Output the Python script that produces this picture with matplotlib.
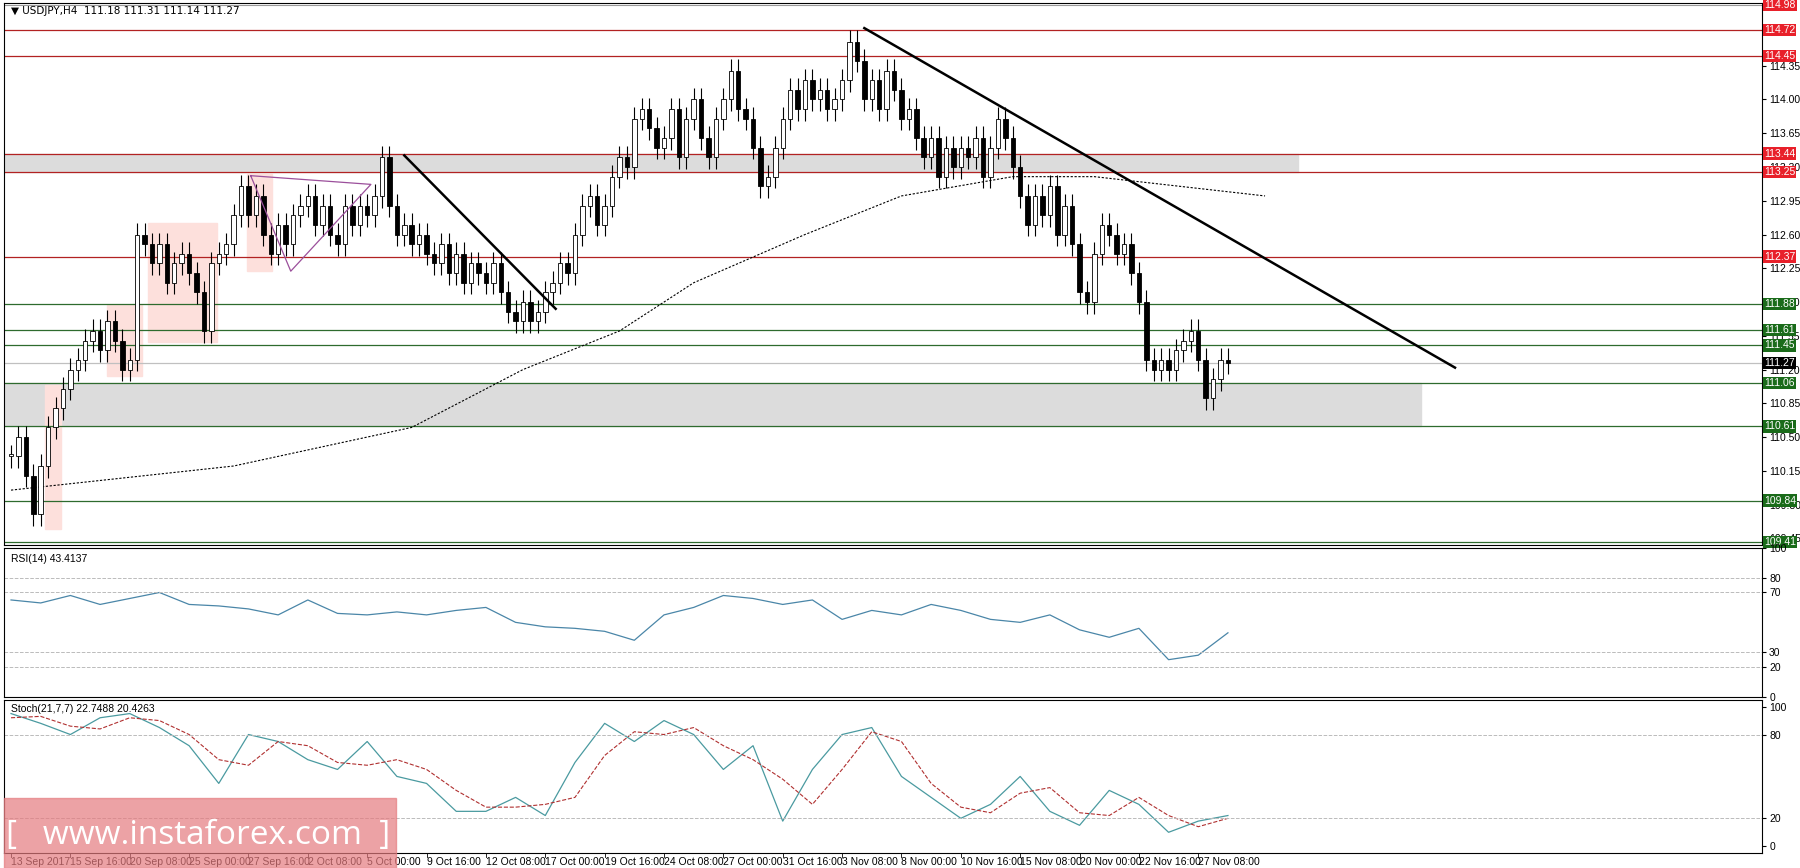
import numpy as np
import matplotlib.pyplot as plt
from matplotlib.patches import Rectangle

plt.rcParams['font.family'] = ['Liberation Sans', 'DejaVu Sans']

# 8-hour closes, 8 bars per date label
closes = [
    110.3, 110.5, 110.1, 109.7, 110.2, 110.6, 110.8, 111.0,
    111.2, 111.3, 111.5, 111.6, 111.4, 111.7, 111.5, 111.2,
    111.3, 112.6, 112.5, 112.3, 112.5, 112.1, 112.3, 112.4,
    112.2, 112.0, 111.6, 112.3, 112.4, 112.5, 112.8, 113.1,
    112.8, 113.0, 112.6, 112.4, 112.7, 112.5, 112.8, 112.9,
    113.0, 112.7, 112.9, 112.6, 112.5, 112.9, 112.7, 112.9,
    112.8, 113.0, 113.4, 112.9, 112.6, 112.7, 112.5, 112.6,
    112.4, 112.3, 112.5, 112.2, 112.4, 112.1, 112.3, 112.2,
    112.1, 112.3, 112.0, 111.8, 111.7, 111.9, 111.7, 111.8,
    112.0, 112.1, 112.3, 112.2, 112.6, 112.9, 113.0, 112.7,
    112.9, 113.2, 113.4, 113.3, 113.8, 113.9, 113.7, 113.5,
    113.6, 113.9, 113.4, 113.8, 114.0, 113.6, 113.4, 113.8,
    114.0, 114.3, 113.9, 113.8, 113.5, 113.1, 113.2, 113.5,
    113.8, 114.1, 113.9, 114.2, 114.0, 114.1, 113.9, 114.0,
    114.2, 114.6, 114.4, 114.0, 114.2, 113.9, 114.3, 114.1,
    113.8, 113.9, 113.6, 113.4, 113.6, 113.2, 113.5, 113.3,
    113.5, 113.4, 113.6, 113.2, 113.5, 113.8, 113.6, 113.3,
    113.0, 112.7, 113.0, 112.8, 113.1, 112.6, 112.9, 112.5,
    112.0, 111.9, 112.4, 112.7, 112.6, 112.4, 112.5, 112.2,
    111.9, 111.3, 111.2, 111.3, 111.2, 111.4, 111.5, 111.6,
    111.3, 110.9, 111.1, 111.3, 111.27,
]
wick = 0.12

ma_x = [0, 30, 54, 69, 82, 92, 107, 120, 135, 146, 169]
ma_y = [109.95, 110.2, 110.6, 111.2, 111.6, 112.1, 112.6, 113.0, 113.2, 113.2, 113.0]

date_labels = ["13 Sep 2017", "15 Sep 16:00", "20 Sep 08:00", "25 Sep 00:00", "27 Sep 16:00",
               "2 Oct 08:00", "5 Oct 00:00", "9 Oct 16:00", "12 Oct 08:00", "17 Oct 00:00",
               "19 Oct 16:00", "24 Oct 08:00", "27 Oct 00:00", "31 Oct 16:00", "3 Nov 08:00",
               "8 Nov 00:00", "10 Nov 16:00", "15 Nov 08:00", "20 Nov 00:00", "22 Nov 16:00",
               "27 Nov 08:00"]

red_levels = [114.72, 114.45, 113.44, 113.25, 112.37]
green_levels = [111.88, 111.61, 111.45, 111.06, 110.61, 109.84, 109.41]
price_ticks = [114.35, 114.00, 113.65, 113.30, 112.95, 112.60, 112.25, 111.90,
               111.55, 111.20, 110.85, 110.50, 110.15, 109.80, 109.45]

# every 4 bars
rsi = [65, 63, 68, 62, 66, 70, 62, 61, 59, 55, 65, 56, 55, 57, 55, 58, 60, 50, 47, 46,
       44, 38, 55, 60, 68, 66, 62, 65, 52, 58, 55, 62, 58, 52, 50, 55, 45, 40, 46, 25,
       28, 43]
stoch_k = [95, 88, 80, 92, 95, 85, 72, 45, 80, 75, 62, 55, 75, 50, 45, 25, 25, 35, 22, 60,
           88, 75, 90, 80, 55, 72, 18, 55, 80, 85, 50, 35, 20, 30, 50, 25, 15, 40, 30, 10,
           18, 22]
stoch_d = [92, 93, 86, 84, 92, 90, 80, 62, 58, 75, 72, 60, 58, 62, 55, 40, 28, 28, 30, 35,
           65, 82, 80, 85, 72, 62, 48, 30, 55, 82, 75, 45, 28, 24, 38, 42, 24, 22, 35, 22,
           14, 20]

fig = plt.figure(figsize=(18, 8.68), dpi=100)
ax = fig.add_axes([0.002, 0.372, 0.977, 0.6245])
ax2 = fig.add_axes([0.002, 0.197, 0.977, 0.172])
ax3 = fig.add_axes([0.002, 0.017, 0.977, 0.177])
xmax = 236
for a in (ax, ax2, ax3):
    a.set_xlim(-1, xmax)
    a.yaxis.tick_right()
    a.tick_params(axis='y', labelsize=7.5, length=3, pad=2)
    a.set_xticks([])

# zones and boxes
ax.add_patch(Rectangle((-1, 113.25), 174.5, 0.19, color='#dcdcdc', zorder=0))
ax.add_patch(Rectangle((-1, 110.61), 191, 0.45, color='#dcdcdc', zorder=0))
for x0, x1, y0, y1 in [(13, 17.7, 111.13, 111.87), (18.5, 27.7, 111.49, 112.72),
                       (4.6, 6.8, 109.55, 111.04), (31.8, 35.2, 112.22, 113.23)]:
    ax.add_patch(Rectangle((x0, y0), x1 - x0, y1 - y0, color='#fde0dc', zorder=0))

for lv in red_levels:
    ax.axhline(lv, color='#b22222', lw=0.9, zorder=1)
for lv in green_levels:
    ax.axhline(lv, color='#2e6b2e', lw=0.9, zorder=1)
ax.axhline(114.98, color='#999999', lw=0.8)
ax.axhline(111.27, color='#c0c0c0', lw=0.9)

opens = [closes[0]] + closes[:-1]
for i, (o, c) in enumerate(zip(opens, closes)):
    ax.vlines(i, min(o, c) - wick, max(o, c) + wick, color='black', lw=0.8, zorder=3)
    face = 'white' if c >= o else 'black'
    ax.add_patch(Rectangle((i - 0.3, min(o, c)), 0.6, max(abs(c - o), 0.02),
                           facecolor=face, edgecolor='black', lw=0.6, zorder=4))

ax.plot(ma_x, ma_y, color='black', ls=(0, (2, 1.5)), lw=0.8, zorder=2)
ax.plot([53, 73.4], [113.42, 111.83], color='black', lw=1.8, zorder=5)
ax.plot([115, 194.6], [114.74, 111.22], color='black', lw=1.8, zorder=5)
ax.plot([32.3, 48.5, 37.7, 32.3], [113.21, 113.12, 112.22, 113.21], color='#9b4f9b', lw=0.9, zorder=5)

ax.set_ylim(109.38, 115.0)
ax.set_yticks(price_ticks)
ax.set_yticklabels(['%.2f' % t for t in price_ticks])
label_style = dict(va='center', fontsize=7.5, color='white', zorder=10,
                   transform=ax.get_yaxis_transform(), clip_on=False)
for lv in [114.98] + red_levels:
    ax.text(1.001, lv, '%.2f' % lv, bbox=dict(boxstyle='square,pad=0.12', fc='#e8202a', ec='none'),
            **label_style)
for lv in green_levels:
    ax.text(1.001, lv, '%.2f' % lv, bbox=dict(boxstyle='square,pad=0.12', fc='#1a6b1a', ec='none'),
            **label_style)
ax.text(1.001, 111.27, '111.27', bbox=dict(boxstyle='square,pad=0.12', fc='black', ec='none'),
        **label_style)
ax.text(0.004, 0.995, '\u25bc USDJPY,H4  111.18 111.31 111.14 111.27', transform=ax.transAxes,
        va='top', fontsize=7.5, family=['DejaVu Sans'])

xi = np.arange(0, len(rsi) * 4, 4)
ax2.plot(xi, rsi, color='#4a86a8', lw=0.9)
ax2.set_ylim(0, 100)
ax2.set_yticks([0, 20, 30, 70, 80, 100])
for lv in [20, 30, 70, 80]:
    ax2.axhline(lv, color='#bbbbbb', ls='--', lw=0.7)
ax2.text(0.004, 0.96, 'RSI(14) 43.4137', transform=ax2.transAxes, va='top', fontsize=7.5)

ax3.plot(xi, stoch_k, color='#4a9aa0', lw=0.9)
ax3.plot(xi, stoch_d, color='#b03030', ls='--', lw=0.8)
ax3.set_ylim(-5, 105)
ax3.set_yticks([0, 20, 80, 100])
for lv in [20, 80]:
    ax3.axhline(lv, color='#bbbbbb', ls='--', lw=0.7)
ax3.text(0.004, 0.97, 'Stoch(21,7,7) 22.7488 20.4263', transform=ax3.transAxes, va='top', fontsize=7.5)

for k, lab in enumerate(date_labels):
    ax3.text(k * 8, -0.025, lab, transform=ax3.get_xaxis_transform(), va='top', fontsize=7.5)
    ax3.plot([k * 8, k * 8], [-0.025, 0], transform=ax3.get_xaxis_transform(), color='black',
             lw=0.6, clip_on=False)

fig.patches.append(Rectangle((0.002, 0.0), 0.218, 0.081, transform=fig.transFigure,
                             color='#e57b7f', alpha=0.7, zorder=20))
fig.text(0.11, 0.037, '[   www.instaforex.com  ]', ha='center', va='center', fontsize=24,
         color='white', zorder=21, family=['Open Sans', 'DejaVu Sans'])

fig.savefig('out.png', dpi=100)
